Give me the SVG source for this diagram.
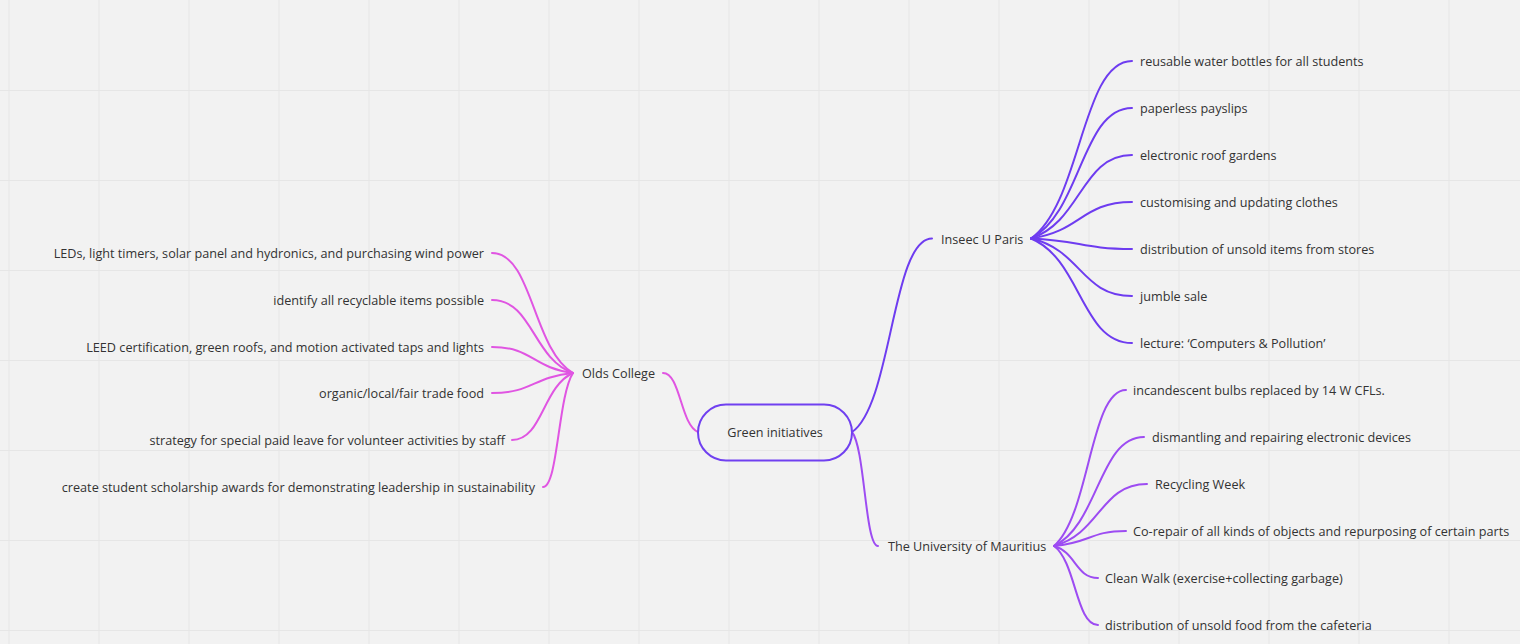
<svg xmlns="http://www.w3.org/2000/svg" width="1520" height="644" viewBox="0 0 1520 644">
<style>
.grid line{stroke:#e6e6e6;stroke-width:1}
text{font-family:"Open Sans","Liberation Sans",sans-serif;font-size:12.65px;fill:#333;dominant-baseline:central}
.e{fill:none;stroke-width:2;stroke-linecap:round}
.v{stroke:#6e3cf0}
.m{stroke:#9d4cf2}
.p{stroke:#e055e2}
.end{text-anchor:end}
</style>
<rect width="1520" height="644" fill="#f2f2f2"/>
<g class="grid">
<line x1="9" y1="0" x2="9" y2="644"/><line x1="99" y1="0" x2="99" y2="644"/><line x1="189" y1="0" x2="189" y2="644"/><line x1="279" y1="0" x2="279" y2="644"/><line x1="369" y1="0" x2="369" y2="644"/><line x1="459" y1="0" x2="459" y2="644"/><line x1="549" y1="0" x2="549" y2="644"/><line x1="639" y1="0" x2="639" y2="644"/><line x1="729" y1="0" x2="729" y2="644"/><line x1="819" y1="0" x2="819" y2="644"/><line x1="909" y1="0" x2="909" y2="644"/><line x1="999" y1="0" x2="999" y2="644"/><line x1="1089" y1="0" x2="1089" y2="644"/><line x1="1179" y1="0" x2="1179" y2="644"/><line x1="1269" y1="0" x2="1269" y2="644"/><line x1="1359" y1="0" x2="1359" y2="644"/><line x1="1449" y1="0" x2="1449" y2="644"/>
<line x1="0" y1="90.5" x2="1520" y2="90.5"/><line x1="0" y1="180.5" x2="1520" y2="180.5"/><line x1="0" y1="270.5" x2="1520" y2="270.5"/><line x1="0" y1="360.5" x2="1520" y2="360.5"/><line x1="0" y1="450.5" x2="1520" y2="450.5"/><line x1="0" y1="540.5" x2="1520" y2="540.5"/><line x1="0" y1="630.5" x2="1520" y2="630.5"/>
</g>
<g id="connectors">
<path class="e p" d="M698,432 C680.5,425 680.5,373 663,373"/>
<path class="e v" d="M852,432 C892,405 892,238.5 932,238.5"/>
<path class="e m" d="M852,432 C865,448 865,546 878,546"/>
<path class="e v" d="M1031,238.5 C1081.5,203 1081.5,61 1132,61"/>
<path class="e v" d="M1031,238.5 C1081.5,212.4 1081.5,108 1132,108"/>
<path class="e v" d="M1031,238.5 C1081.5,221.8 1081.5,155 1132,155"/>
<path class="e v" d="M1031,238.5 C1081.5,231.2 1081.5,202 1132,202"/>
<path class="e v" d="M1031,238.5 C1081.5,240.6 1081.5,249 1132,249"/>
<path class="e v" d="M1031,238.5 C1081.5,250 1081.5,296 1132,296"/>
<path class="e v" d="M1031,238.5 C1081.5,259.4 1081.5,343 1132,343"/>
<path class="e m" d="M1054,546 C1090,514.8 1090,390 1126,390"/>
<path class="e m" d="M1054,546 C1099,524.2 1099,437 1144,437"/>
<path class="e m" d="M1054,546 C1100.5,533.6 1100.5,484 1147,484"/>
<path class="e m" d="M1054,546 C1090,543 1090,531 1126,531"/>
<path class="e m" d="M1054,546 C1076,552.4 1076,578 1098,578"/>
<path class="e m" d="M1054,546 C1076,561.8 1076,625 1098,625"/>
<path class="e p" d="M573,373 C532.5,349 532.5,253 492,253"/>
<path class="e p" d="M573,373 C532.5,358.4 532.5,300 492,300"/>
<path class="e p" d="M573,373 C532.5,367.8 532.5,347 492,347"/>
<path class="e p" d="M573,373 C532.5,377 532.5,393 492,393"/>
<path class="e p" d="M573,373 C542.5,386.4 542.5,440 512,440"/>
<path class="e p" d="M573,373 C558,395.8 558,487 543,487"/>
</g>
<g id="root">
<rect x="698" y="404.5" width="154" height="56" rx="28" fill="none" stroke="#7040f0" stroke-width="2"/>
<text x="775" y="432" text-anchor="middle">Green initiatives</text>
</g>
<g id="olds"><text x="582" y="373">Olds College</text></g>
<g id="inseec"><text x="941" y="238.5">Inseec U Paris</text></g>
<g id="mauritius"><text x="888" y="546">The University of Mauritius</text></g>
<g id="inseec-children">
<text x="1140" y="61">reusable water bottles for all students</text>
<text x="1140" y="108">paperless payslips</text>
<text x="1140" y="155">electronic roof gardens</text>
<text x="1140" y="202">customising and updating clothes</text>
<text x="1140" y="249">distribution of unsold items from stores</text>
<text x="1140" y="296">jumble sale</text>
<text x="1140" y="343">lecture: ‘Computers &amp; Pollution’</text>
</g>
<g id="mauritius-children">
<text x="1133" y="390">incandescent bulbs replaced by 14 W CFLs.</text>
<text x="1152" y="437">dismantling and repairing electronic devices</text>
<text x="1155" y="484">Recycling Week</text>
<text x="1133" y="531">Co-repair of all kinds of objects and repurposing of certain parts</text>
<text x="1105" y="578">Clean Walk (exercise+collecting garbage)</text>
<text x="1105" y="625">distribution of unsold food from the cafeteria</text>
</g>
<g id="olds-children">
<text class="end" x="484" y="253">LEDs, light timers, solar panel and hydronics, and purchasing wind power</text>
<text class="end" x="484" y="300">identify all recyclable items possible</text>
<text class="end" x="484" y="347">LEED certification, green roofs, and motion activated taps and lights</text>
<text class="end" x="484" y="393">organic/local/fair trade food</text>
<text class="end" x="505" y="440">strategy for special paid leave for volunteer activities by staff</text>
<text class="end" x="535" y="487">create student scholarship awards for demonstrating leadership in sustainability</text>
</g>
</svg>
